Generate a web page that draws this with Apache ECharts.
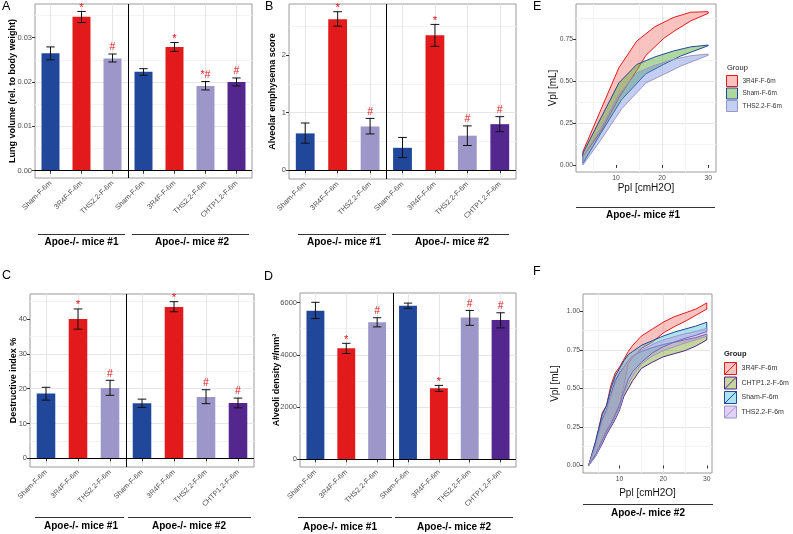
<!DOCTYPE html>
<html><head><meta charset="utf-8">
<script src="https://cdn.jsdelivr.net/npm/echarts@6/dist/echarts.min.js"></script>
<style>html,body{margin:0;padding:0;background:#fff}#c{width:793px;height:534px}</style>
</head><body><div id="c"></div>
<script>
// ---------------- data ----------------
const categories = ['Sham-F-6m','3R4F-F-6m','THS2.2-F-6m','Sham-F-6m','3R4F-F-6m','THS2.2-F-6m','CHTP1.2-F-6m'];
const cohort = [1,1,1,2,2,2,2];
const cohortLabels = ['Apoe-/- mice #1','Apoe-/- mice #2'];

const lungVolume     = [0.0265, 0.0347, 0.0253, 0.0223, 0.0279, 0.0191, 0.0200];
const lungVolumeLow  = [0.0250, 0.0334, 0.0245, 0.0215, 0.0269, 0.0182, 0.0191];
const lungVolumeHigh = [0.0279, 0.0359, 0.0263, 0.0230, 0.0289, 0.0201, 0.0209];
const lungVolumeSig  = ['', '*', '#', '', '*', '*#', '#'];
const lungVolumeTicks = [0, 0.01, 0.02, 0.03];

const emphysema     = [0.64, 2.62, 0.76, 0.39, 2.34, 0.60, 0.80];
const emphysemaLow  = [0.47, 2.50, 0.63, 0.22, 2.15, 0.43, 0.67];
const emphysemaHigh = [0.82, 2.75, 0.90, 0.57, 2.53, 0.77, 0.93];
const emphysemaSig  = ['', '*', '#', '', '*', '#', '#'];
const emphysemaTicks = [0, 1, 2];

const destructive     = [18.6, 40.0, 20.2, 15.8, 43.5, 17.6, 15.9];
const destructiveLow  = [16.7, 37.1, 18.1, 14.6, 42.1, 15.7, 14.5];
const destructiveHigh = [20.4, 42.9, 22.4, 17.0, 45.0, 19.7, 17.3];
const destructiveSig  = ['', '*', '#', '', '*', '#', '#'];
const destructiveTicks = [0, 10, 20, 30, 40];

const alveoli     = [5690, 4250, 5250, 5880, 2720, 5430, 5330];
const alveoliLow  = [5390, 4050, 5070, 5780, 2600, 5130, 5030];
const alveoliHigh = [6010, 4440, 5420, 5980, 2830, 5700, 5610];
const alveoliSig  = ['', '*', '#', '', '*', '#', '#'];
const alveoliTicks = [0, 2000, 4000, 6000];

// Panel E: pressure-volume bands (Apoe-/- mice #1), [Ppl, Vpl]
const e3R4FUpper = [[2.8,0.08],[6.7,0.33],[10.6,0.58],[14.5,0.74],[18.4,0.825],[22.4,0.88],[26.2,0.912],[30,0.915]];
const e3R4FLower = [[2.8,0.05],[6.7,0.20],[10.6,0.40],[14.5,0.565],[16.5,0.655],[20.3,0.755],[22.4,0.795],[26.2,0.86],[30,0.905]];
const eShamUpper = [[2.8,0.07],[6.7,0.28],[10.6,0.49],[14.5,0.60],[18.4,0.645],[22.4,0.68],[26.2,0.705],[30,0.716]];
const eShamLower = [[2.8,0.01],[6.7,0.19],[11.2,0.39],[16.5,0.545],[20.3,0.60],[24,0.65],[30,0.712]];
const eTHSUpper  = [[2.8,0.05],[6.7,0.22],[10.6,0.42],[14.5,0.55],[18.4,0.595],[22.4,0.63],[26.2,0.652],[30,0.662]];
const eTHSLower  = [[2.8,0.0],[6.7,0.15],[11.2,0.335],[16.5,0.49],[20.3,0.54],[24,0.59],[30,0.655]];
const eXTicks = [10, 20, 30];
const eYTicks = [0, 0.25, 0.5, 0.75];

// Panel F: pressure-volume bands (Apoe-/- mice #2)
const fPpl = [2.9, 4.5, 6, 7, 8, 9, 10, 11, 12, 13, 15, 17.5, 20, 22.5, 25, 27.5, 30];
const f3R4FUpper = [0, 0.15, 0.34, 0.39, 0.52, 0.60, 0.64, 0.69, 0.74, 0.78, 0.84, 0.885, 0.93, 0.965, 0.99, 1.015, 1.055];
const f3R4FLower = [0, 0.07, 0.17, 0.23, 0.27, 0.33, 0.40, 0.52, 0.66, 0.70, 0.76, 0.80, 0.86, 0.90, 0.935, 0.975, 1.015];
const fCHTPUpper = [0, 0.14, 0.30, 0.36, 0.46, 0.55, 0.60, 0.64, 0.68, 0.71, 0.74, 0.765, 0.785, 0.80, 0.815, 0.83, 0.853];
const fCHTPLower = [0, 0.06, 0.14, 0.20, 0.25, 0.30, 0.36, 0.45, 0.50, 0.55, 0.63, 0.67, 0.705, 0.725, 0.745, 0.775, 0.815];
const fShamUpper = [0, 0.16, 0.33, 0.39, 0.50, 0.58, 0.63, 0.68, 0.72, 0.74, 0.78, 0.81, 0.84, 0.865, 0.885, 0.905, 0.93];
const fShamLower = [0, 0.07, 0.16, 0.22, 0.27, 0.33, 0.39, 0.48, 0.56, 0.61, 0.67, 0.73, 0.77, 0.80, 0.825, 0.845, 0.87];
const fTHSUpper  = [0, 0.13, 0.29, 0.35, 0.45, 0.53, 0.59, 0.64, 0.68, 0.71, 0.75, 0.785, 0.815, 0.835, 0.855, 0.87, 0.89];
const fTHSLower  = [0, 0.06, 0.15, 0.21, 0.26, 0.31, 0.37, 0.47, 0.53, 0.58, 0.66, 0.71, 0.745, 0.77, 0.795, 0.815, 0.84];
const fXTicks = [10, 20, 30];
const fYTicks = [0, 0.25, 0.5, 0.75, 1];

// ---------------- styling ----------------
const FONT = "'Liberation Sans', Arial, Helvetica, sans-serif";
const barColors = ['#21479B','#E31A1C','#9D96C8','#21479B','#E31A1C','#9D96C8','#54278F'];
const GRID = '#e6e6e6', MINOR = '#f3f3f3', BORDER = '#9a9a9a', TICKC = '#333', LABC = '#4d4d4d';

const gridBoxes = [
  {left:35,  top:4,   width:217, height:174},
  {left:289, top:4,   width:227, height:175},
  {left:30,  top:294, width:224, height:173},
  {left:300, top:293, width:216, height:174},
  {left:576, top:4,   width:140, height:168},
  {left:583, top:294, width:129, height:179}
];

const barPanels = [
  {vals:lungVolume, lo:lungVolumeLow, hi:lungVolumeHigh, sig:lungVolumeSig, ticks:lungVolumeTicks, min:-0.00165, max:0.03758, step:0.01, dec:2, name:'Lung volume (rel. to body weight)', gap:17.5},
  {vals:emphysema, lo:emphysemaLow, hi:emphysemaHigh, sig:emphysemaSig, ticks:emphysemaTicks, min:-0.151, max:2.884, step:1, dec:0, name:'Alveolar emphysema score', gap:12},
  {vals:destructive, lo:destructiveLow, hi:destructiveHigh, sig:destructiveSig, ticks:destructiveTicks, min:-2.5, max:47.2, step:10, dec:0, name:'Destructive index %', gap:12},
  {vals:alveoli, lo:alveoliLow, hi:alveoliHigh, sig:alveoliSig, ticks:alveoliTicks, min:-294, max:6367, step:2000, dec:0, name:'Alveoli density #/mm\u00B3', gap:18.5}
];

const grid = gridBoxes.map(b => Object.assign({show:true, borderColor:BORDER, borderWidth:1, backgroundColor:'transparent', containLabel:false}, b));
const xAxis = [], yAxis = [], series = [];

const dividerAfter = cohort.findIndex((c,i) => i > 0 && c !== cohort[i-1]);

barPanels.forEach((p, gi) => {
  xAxis.push({
    gridIndex: gi, type:'category', data: categories, boundaryGap:true,
    axisLine:{show:false},
    axisTick:{show:true, alignWithLabel:true, length:3, lineStyle:{color:TICKC}},
    axisLabel:{interval:0, rotate:45, fontSize:7.2, color:LABC, margin:4, fontFamily:FONT},
    splitLine:{show:true, alignWithLabel:true, lineStyle:{color:GRID}}
  });
  yAxis.push({
    gridIndex: gi, type:'value', min:p.min, max:p.max, minInterval:p.step, maxInterval:p.step,
    axisLine:{show:false},
    axisTick:{show:true, length:3, lineStyle:{color:TICKC}, customValues:p.ticks},
    axisLabel:{customValues:p.ticks, fontSize:7.5, color:LABC, margin:3, fontFamily:FONT,
      formatter: v => v.toFixed(p.dec)},
    splitLine:{show:true, showMinLine:false, showMaxLine:false, lineStyle:{color:GRID}},
    minorTick:{show:false, splitNumber:2},
    minorSplitLine:{show:true, lineStyle:{color:MINOR}},
    name:p.name, nameLocation:'middle', nameRotate:90, nameGap:p.gap, nameMoveOverlap:false,
    nameTextStyle:{fontSize:9, fontWeight:'bold', color:'#000', fontFamily:FONT}
  });
  series.push({
    type:'bar', xAxisIndex:gi, yAxisIndex:gi, barWidth:'58%', silent:true, z:2,
    data: p.vals.map((v,i) => ({value:v, itemStyle:{color:barColors[i]}})),
    markLine:{silent:true, symbol:'none', animation:false, label:{show:false},
      lineStyle:{color:'#000', width:1, type:'solid'}, data:[{yAxis:0}]}
  });
  series.push({
    type:'custom', xAxisIndex:gi, yAxisIndex:gi, silent:true, z:3,
    data: p.vals.map((v,i) => [i, p.lo[i], p.hi[i]]),
    renderItem: (params, api) => {
      const j = api.value(0);
      const top = api.coord([j, api.value(2)]);
      const bot = api.coord([j, api.value(1)]);
      const w = api.size([1, 0])[0] * 0.27 / 2;
      const ls = {stroke:'#111', lineWidth:1};
      const ch = [
        {type:'line', shape:{x1:top[0], y1:top[1], x2:bot[0], y2:bot[1]}, style:ls},
        {type:'line', shape:{x1:top[0]-w, y1:top[1], x2:top[0]+w, y2:top[1]}, style:ls},
        {type:'line', shape:{x1:bot[0]-w, y1:bot[1], x2:bot[0]+w, y2:bot[1]}, style:ls}
      ];
      const s = p.sig[j];
      if (s) ch.push({type:'text', style:{text:s, x:top[0], y:top[1] - (s === '*' ? -2 : 1),
        align:'center', verticalAlign:'bottom', fill:'#E41A1C', fontSize:(s === '*' ? 11.5 : 10.5), fontFamily:FONT}});
      if (params.dataIndex === 0) {
        const a = api.coord([dividerAfter - 1, 0])[0], b = api.coord([dividerAfter, 0])[0];
        const cs = params.coordSys, xm = Math.round((a + b) / 2) + 0.5;
        ch.push({type:'line', shape:{x1:xm, y1:cs.y, x2:xm, y2:cs.y + cs.height}, style:{stroke:'#000', lineWidth:1}});
      }
      return {type:'group', children:ch};
    }
  });
});

// PV panels
function pvAxes(gi, xmin, xmax, xt, ymin, ymax, yt, xGap, yGap) {
  xAxis.push({
    gridIndex:gi, type:'value', min:xmin, max:xmax, minInterval:10, maxInterval:10,
    axisLine:{show:false},
    axisTick:{show:true, length:3, lineStyle:{color:TICKC}, customValues:xt},
    axisLabel:{customValues:xt, fontSize:6.8, color:LABC, margin:3, fontFamily:FONT},
    splitLine:{show:true, showMinLine:false, showMaxLine:false, lineStyle:{color:GRID}},
    minorTick:{show:false, splitNumber:2},
    minorSplitLine:{show:true, lineStyle:{color:MINOR}},
    name:'Ppl [cmH2O]', nameLocation:'middle', nameGap:xGap, nameMoveOverlap:false,
    nameTextStyle:{fontSize:10, color:'#111', fontFamily:FONT}
  });
  yAxis.push({
    gridIndex:gi, type:'value', min:ymin, max:ymax, minInterval:0.25, maxInterval:0.25,
    axisLine:{show:false},
    axisTick:{show:true, length:3, lineStyle:{color:TICKC}, customValues:yt},
    axisLabel:{customValues:yt, fontSize:6.8, color:LABC, margin:3, fontFamily:FONT, formatter:v => v.toFixed(2)},
    splitLine:{show:true, showMinLine:false, showMaxLine:false, lineStyle:{color:GRID}},
    minorTick:{show:false, splitNumber:2},
    minorSplitLine:{show:true, lineStyle:{color:MINOR}},
    name:'Vpl [mL]', nameLocation:'middle', nameRotate:90, nameGap:yGap, nameMoveOverlap:false,
    nameTextStyle:{fontSize:10, color:'#111', fontFamily:FONT}
  });
}
pvAxes(4, 1.3, 31.7, eXTicks, -0.042, 0.961, eYTicks, 11, 18);
pvAxes(5, 1.6, 31.2, fXTicks, -0.049, 1.113, fYTicks, 15, 22.5);

function ribbon(name, upper, lower, fill, stroke, gi) {
  const pts = upper.concat(lower.slice().reverse());
  return {
    type:'custom', name, xAxisIndex:gi, yAxisIndex:gi, silent:true, clip:true, z:2,
    itemStyle:{color:fill, borderColor:stroke},
    data: pts,
    renderItem: (params, api) => params.dataIndex === 0 ? {
      type:'polygon', shape:{points: pts.map(q => api.coord(q))},
      style:{fill, stroke, lineWidth:1, lineJoin:'round'}
    } : null
  };
}
const zipF = arr => fPpl.map((x,k) => [x, arr[k]]);

const fillE = {r:'rgba(242,112,106,0.42)', s:'rgba(96,176,66,0.5)', t:'rgba(110,140,225,0.42)'};
const fillF = {r:'rgba(242,112,106,0.42)', c:'rgba(140,176,58,0.5)', s:'rgba(60,188,210,0.42)', t:'rgba(190,150,232,0.45)'};

series.push(ribbon('3R4F-F-6m', e3R4FUpper, e3R4FLower, fillE.r, '#E41A1C', 4));
series.push(ribbon('Sham-F-6m', eShamUpper, eShamLower, fillE.s, '#21479B', 4));
series.push(ribbon('THS2.2-F-6m', eTHSUpper, eTHSLower, fillE.t, '#9D96C8', 4));

series.push(ribbon('3R4F-F-6m', zipF(f3R4FUpper), zipF(f3R4FLower), fillF.r, '#E41A1C', 5));
series.push(ribbon('CHTP1.2-F-6m', zipF(fCHTPUpper), zipF(fCHTPLower), fillF.c, '#54278F', 5));
series.push(ribbon('Sham-F-6m', zipF(fShamUpper), zipF(fShamLower), fillF.s, '#21479B', 5));
series.push(ribbon('THS2.2-F-6m', zipF(fTHSUpper), zipF(fTHSLower), fillF.t, '#9D96C8', 5));

const keyPath = 'path://M0,0L10,0L10,10L0,10ZM0,10L10,0';
const legend = [
  {orient:'vertical', left:726, top:75, itemWidth:11, itemHeight:11, itemGap:0.5, padding:0, selectedMode:false,
   textStyle:{fontSize:6.5, color:'#333', fontFamily:FONT},
   data:[
     {name:'3R4F-F-6m', icon:'rect', itemStyle:{color:fillE.r, borderColor:'#E41A1C', borderWidth:1}},
     {name:'Sham-F-6m', icon:'rect', itemStyle:{color:fillE.s, borderColor:'#21479B', borderWidth:1}},
     {name:'THS2.2-F-6m', icon:'rect', itemStyle:{color:fillE.t, borderColor:'#9D96C8', borderWidth:1}}
   ]},
  {orient:'vertical', left:724, top:362, itemWidth:12, itemHeight:12, itemGap:1.5, padding:0, selectedMode:false,
   textStyle:{fontSize:7, color:'#333', fontFamily:FONT},
   data:[
     {name:'3R4F-F-6m', icon:keyPath, itemStyle:{color:fillF.r, borderColor:'#E41A1C', borderWidth:1}},
     {name:'CHTP1.2-F-6m', icon:keyPath, itemStyle:{color:fillF.c, borderColor:'#54278F', borderWidth:1}},
     {name:'Sham-F-6m', icon:keyPath, itemStyle:{color:fillF.s, borderColor:'#21479B', borderWidth:1}},
     {name:'THS2.2-F-6m', icon:keyPath, itemStyle:{color:fillF.t, borderColor:'#9D96C8', borderWidth:1}}
   ]}
];

const letter = (t, l, tp) => ({text:t, left:l, top:tp, padding:0, textStyle:{fontSize:12.5, fontWeight:'normal', color:'#000', fontFamily:FONT}});
const title = [
  letter('A', 2, 0), letter('B', 265, 0), letter('C', 2, 269), letter('D', 264, 270), letter('E', 533, 0), letter('F', 533, 265),
  {text:'Group', left:727, top:64, padding:0, textStyle:{fontSize:7.5, fontWeight:'normal', color:'#222', fontFamily:FONT}},
  {text:'Group', left:724, top:350, padding:0, textStyle:{fontSize:7.5, fontWeight:'bold', color:'#222', fontFamily:FONT}}
];

// cohort annotation lines + labels under each panel
const ann = [
  {x1:38, x2:125, y:234, tx:81.5, ty:242, t:0}, {x1:132, x2:249, y:234, tx:192, ty:242, t:1},
  {x1:298, x2:386, y:234, tx:344, ty:242, t:0}, {x1:392, x2:509, y:234, tx:452, ty:242, t:1},
  {x1:35, x2:124, y:517, tx:81, ty:526, t:0}, {x1:128, x2:251, y:517, tx:189, ty:526, t:1},
  {x1:298, x2:392, y:517, tx:340, ty:527, t:0}, {x1:395, x2:513, y:517, tx:454, ty:527, t:1},
  {x1:576, x2:715, y:207, tx:643, ty:215, t:0},
  {x1:583, x2:713, y:504, tx:648, ty:513, t:1}
];
const graphic = [];
ann.forEach(a => {
  graphic.push({type:'line', silent:true, shape:{x1:a.x1, y1:a.y + 0.5, x2:a.x2, y2:a.y + 0.5}, style:{stroke:'#333', lineWidth:1}});
  graphic.push({type:'text', silent:true, x:a.tx, y:a.ty, style:{text:cohortLabels[a.t], align:'center', verticalAlign:'middle',
    fontSize:10, fontWeight:'bold', fontFamily:FONT, fill:'#000'}});
});

const chart = echarts.init(document.getElementById('c'), null, {renderer:'canvas'});
chart.setOption({animation:false, backgroundColor:'#fff', textStyle:{fontFamily:FONT},
  title, legend, grid, xAxis, yAxis, series, graphic});
</script></body></html>
